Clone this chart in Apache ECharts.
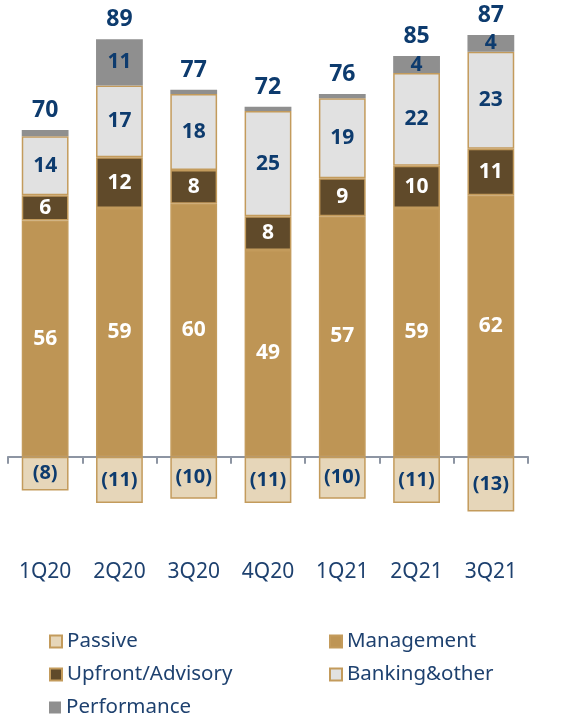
<!DOCTYPE html>
<html>
<head>
<meta charset="utf-8">
<script src="https://cdn.jsdelivr.net/npm/echarts@6/dist/echarts.min.js"></script>
<style>
    html, body { margin: 0; padding: 0; background: #fff; }
    #chart { width: 561px; height: 717px; }
</style>
</head>
<body>
<div id="chart"></div>
<script>
    var quarters = ['1Q20', '2Q20', '3Q20', '4Q20', '1Q21', '2Q21', '3Q21'];
    var passive = [-8, -11, -10, -11, -10, -11, -13];
    var management = [56, 59, 60, 49, 57, 59, 62];
    var upfront = [6, 12, 8, 8, 9, 10, 11];
    var banking = [14, 17, 18, 25, 19, 22, 23];
    var performance = [1.5, 11, 1, 1, 1, 4, 4];
    var totals = [70, 89, 77, 72, 76, 85, 87];

    var navy = '#0D3B6E';
    var gold = '#C39B5C';
    var font = 'Noto Sans';

    function innerLabel(color, minVal) {
        return {
            show: true,
            position: 'inside',
            color: color,
            fontFamily: font,
            fontWeight: 'bold',
            fontSize: 21,
            formatter: function (p) {
                return Math.abs(p.value) >= minVal ? String(p.value) : '';
            }
        };
    }

    // one legend per item so the two-column layout is exact
    function legendItem(name, left, top) {
        return {
            left: left, top: top, padding: 0,
            icon: 'rect',
            itemWidth: 12, itemHeight: 12, itemGap: 4,
            textStyle: { color: '#1E416F', fontFamily: font, fontSize: 20.5, lineHeight: 20, padding: [0, 0, 0, 0] },
            data: [name]
        };
    }

    var option = {
        backgroundColor: '#fff',
        animation: false,
        grid: { left: 8, right: 33, top: 35, bottom: 176 },
        legend: [
            legendItem('Passive', 49, 631),
            legendItem('Management', 329, 631),
            legendItem('Upfront/Advisory', 49, 664),
            legendItem('Banking&other', 329, 664),
            legendItem('Performance', 49, 697)
        ],
        xAxis: {
            type: 'category',
            data: quarters,
            axisLine: { onZero: true, lineStyle: { color: '#8D95A3', width: 2 } },
            axisTick: { show: true, length: 7, lineStyle: { color: '#8D95A3', width: 2 } },
            axisLabel: {
                margin: 21,
                color: '#1E416F',
                fontFamily: font,
                fontSize: 21
            }
        },
        yAxis: {
            type: 'value',
            min: -20,
            max: 100,
            show: false,
            splitLine: { show: false }
        },
        series: [
            {
                name: 'Passive', type: 'bar', stack: 'rev', barWidth: '63%',
                data: passive,
                itemStyle: { color: '#E6D6B9', borderColor: gold, borderWidth: 1.5 },
                label: {
                    show: true, position: 'inside', color: navy,
                    fontFamily: font, fontWeight: 'bold', fontSize: 20,
                    formatter: function (p) { return '(' + Math.abs(p.value) + ')'; }
                }
            },
            {
                name: 'Management', type: 'bar', stack: 'rev',
                data: management,
                itemStyle: { color: '#BE9555', borderColor: gold, borderWidth: 1.5 },
                label: innerLabel('#fff', 0)
            },
            {
                name: 'Upfront/Advisory', type: 'bar', stack: 'rev',
                data: upfront,
                itemStyle: { color: '#604A2A', borderColor: gold, borderWidth: 1.5 },
                label: innerLabel('#fff', 0)
            },
            {
                name: 'Banking&other', type: 'bar', stack: 'rev',
                data: banking,
                itemStyle: { color: '#E1E1E1', borderColor: gold, borderWidth: 1.5 },
                label: innerLabel(navy, 0)
            },
            {
                name: 'Performance', type: 'bar', stack: 'rev',
                data: performance,
                itemStyle: { color: '#8F8F8F' },
                label: innerLabel(navy, 3)
            },
            {
                name: 'Total', type: 'bar', stack: 'rev',
                data: totals.map(function () { return 0; }),
                itemStyle: { color: 'transparent', borderWidth: 0 },
                label: {
                    show: true, position: 'top', distance: 8,
                    color: navy, fontFamily: font, fontWeight: 'bold', fontSize: 23,
                    formatter: function (p) { return String(totals[p.dataIndex]); }
                }
            }
        ]
    };

    echarts.init(document.getElementById('chart')).setOption(option);
</script>
</body>
</html>
